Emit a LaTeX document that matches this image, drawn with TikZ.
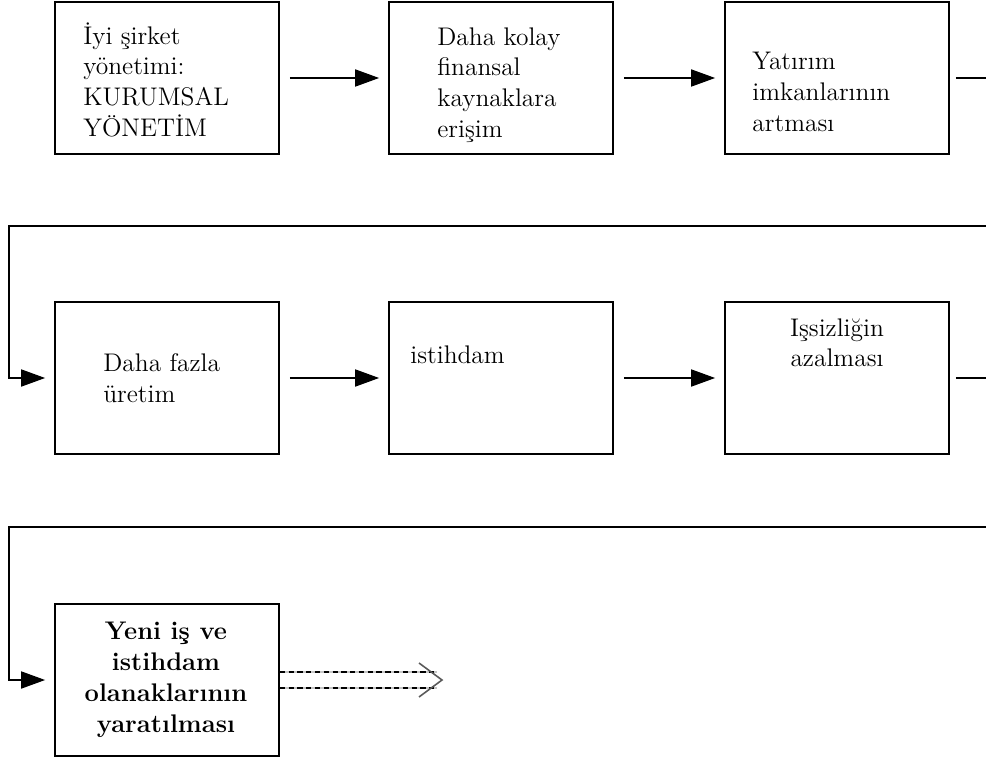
\documentclass[tikz,border=0pt]{standalone}
\usepackage{amsmath}
\usetikzlibrary{arrows.meta}

\tikzset{
    box/.style={draw, line width=1pt, minimum width=4.48cm, minimum height=3.04cm, inner sep=0pt},
    txt/.style={inner sep=0pt, align=left, font=\fontsize{14.5}{17.5}\selectfont},
    conn/.style={line width=1pt, -{Triangle[length=0.48cm, width=0.34cm]}},
    dline/.style={gray!45, line width=1.3pt, postaction={draw=black, dash pattern=on 3pt off 2pt, line width=0.6pt}}
}

\begin{document}
\begin{tikzpicture}[x=0.02cm, y=-0.02cm]

    \useasboundingbox (0,0) rectangle (986,760);

    % First row
    \node[box] (b1) at (167,78) {};
    \node[box] (b2) at (501,78) {};
    \node[box] (b3) at (837,78) {};
    \node[txt, anchor=north west] (t1) at (83,22) {İyi şirket\\yönetimi:\\KURUMSAL\\YÖNETİM};
    \node[txt, anchor=north west] (t2) at (437,27) {Daha kolay\\finansal\\kaynaklara\\erişim};
    \node[txt, anchor=north west] (t3) at (752,52) {Yatırım\\imkanlarının\\artması};

    % Second row
    \node[box] (b4) at (167,378) {};
    \node[box] (b5) at (501,378) {};
    \node[box] (b6) at (837,378) {};
    \node[txt, anchor=north west] (t4) at (103,353) {Daha fazla\\üretim};
    \node[txt, anchor=north west] (t5) at (410,345) {istihdam};
    \node[txt, anchor=north, align=center] (t6) at (837,318) {Işsizliğin\\azalması};

    % Third row
    \node[box] (b7) at (167,680) {};
    \node[txt, anchor=north, align=center, font=\fontsize{14.5}{17.5}\selectfont\bfseries] (t7) at (166,622) {Yeni iş ve\\istihdam\\olanaklarının\\yaratılması};

    % Arrows
    \draw[conn, shorten <=0.2cm, shorten >=0.18cm] (b1) -- (b2);
    \draw[conn, shorten <=0.2cm, shorten >=0.18cm] (b2) -- (b3);
    \draw[conn, shorten <=0.2cm, shorten >=0.18cm] (b4) -- (b5);
    \draw[conn, shorten <=0.2cm, shorten >=0.18cm] (b5) -- (b6);

    % Wrap round to the next row
    \coordinate (r1) at (1010,226);
    \coordinate (l1) at (9,226);
    \coordinate (r2) at (1010,527);
    \coordinate (l2) at (9,527);
    \draw[conn, shorten >=0.18cm] ([xshift=0.12cm]b3.east) -| (r1) -- (l1) |- (b4.west);
    \draw[conn, shorten >=0.18cm] ([xshift=0.12cm]b6.east) -| (r2) -- (l2) |- (b7.west);

    % Open double arrow
    \coordinate (tip) at (442,680);
    \draw[dline] ([yshift=0.16cm]b7.east) -- ++(157,0);
    \draw[dline] ([yshift=-0.16cm]b7.east) -- ++(157,0);
    \draw[line width=0.9pt, gray!70!black] (tip) ++(-23,-17) -- (tip) -- ++(-23,17);

\end{tikzpicture}
\end{document}
